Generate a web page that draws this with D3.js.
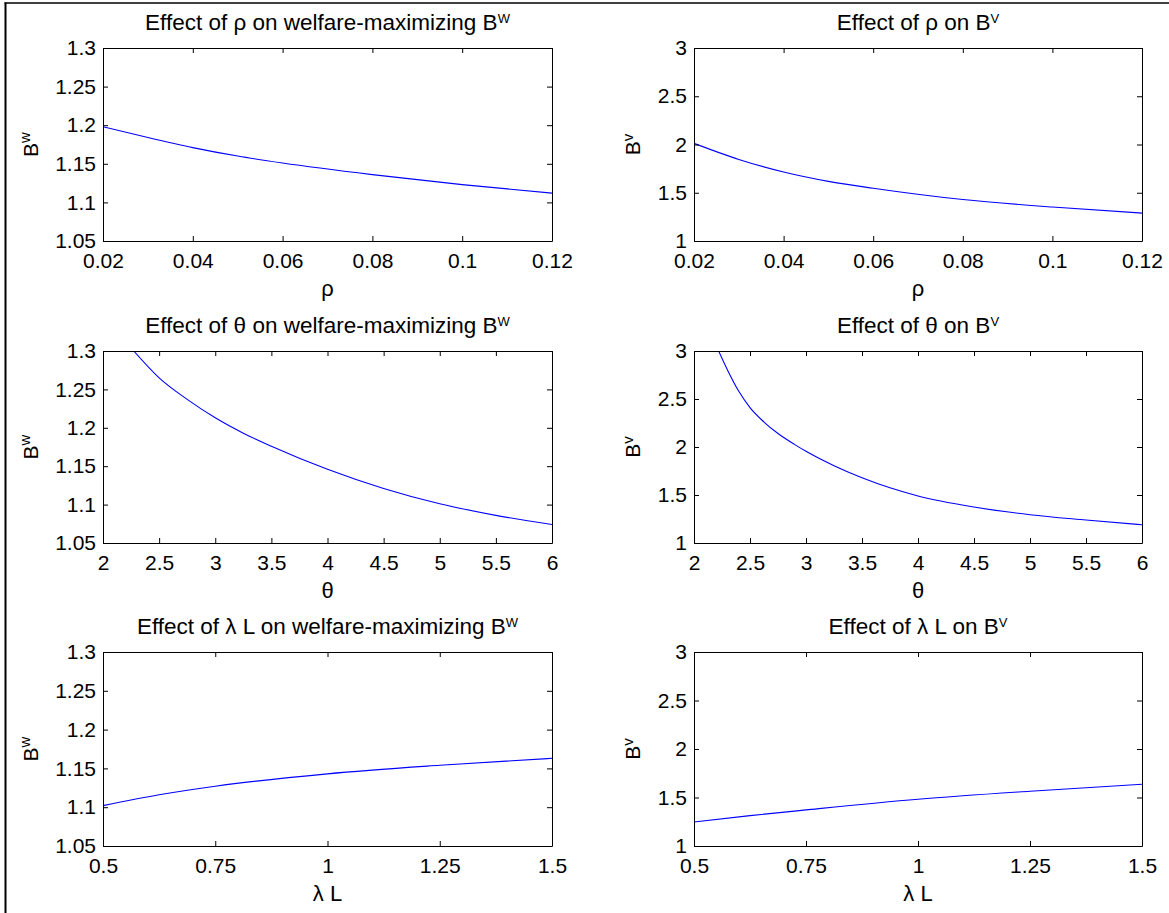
<!DOCTYPE html>
<html>
<head>
<meta charset="utf-8">
<script src="https://cdn.jsdelivr.net/npm/d3@7"></script>
<style>
  body { margin: 0; background: #fff; }
  svg text { font-family: "Liberation Sans", Arial, sans-serif; fill: #000; }
</style>
</head>
<body>
<svg id="fig" width="1169" height="913"></svg>
<script>
// values
var rho = [0.02, 0.03, 0.04, 0.05, 0.06, 0.08, 0.10, 0.12];
var rhoBw = [1.198, 1.184, 1.171, 1.160, 1.151, 1.136, 1.123, 1.112];
var rhoBv = [2.012, 1.845, 1.715, 1.618, 1.547, 1.430, 1.352, 1.289];

var thetaW = [2.274, 2.5, 2.75, 3.0, 3.25, 3.5, 4.0, 4.5, 5.0, 5.5, 6.0];
var thetaBw = [1.300, 1.265, 1.237, 1.213, 1.193, 1.176, 1.146, 1.121, 1.101, 1.086, 1.074];
var thetaV = [2.22, 2.3, 2.4, 2.5, 2.625, 2.75, 2.9, 3.0, 3.25, 3.5, 3.75, 4.0, 4.5, 5.0, 5.5, 6.0];
var thetaBv = [3.0, 2.80, 2.58, 2.41, 2.26, 2.14, 2.025, 1.955, 1.805, 1.68, 1.575, 1.49, 1.375, 1.295, 1.24, 1.19];

var lamL = [0.5, 0.625, 0.75, 1.0, 1.25, 1.5];
var lamBw = [1.102, 1.116, 1.127, 1.143, 1.154, 1.163];
var lamBv = [1.248, 1.313, 1.372, 1.482, 1.565, 1.637];

var rhoTicks = [0.02, 0.04, 0.06, 0.08, 0.1, 0.12];
var thetaTicks = [2, 2.5, 3, 3.5, 4, 4.5, 5, 5.5, 6];
var lamTicks = [0.5, 0.75, 1, 1.25, 1.5];
var bwTicks = [1.05, 1.1, 1.15, 1.2, 1.25, 1.3];
var bvTicks = [1, 1.5, 2, 2.5, 3];

var svg = d3.select("#fig");

// frame lines round the figure
svg.append("line").attr("x1", 5.5).attr("x2", 5.5).attr("y1", 2.5).attr("y2", 913)
    .attr("stroke", "#000").attr("stroke-width", 2);
svg.append("line").attr("x1", 4.5).attr("x2", 1169).attr("y1", 3).attr("y2", 3)
    .attr("stroke", "#000").attr("stroke-width", 1.5);

var cols = [{x0: 103, x1: 552, ylab: 37.5}, {x0: 694, x1: 1142, ylab: 640}];
var rows = [{y0: 48, y1: 241}, {y0: 351, y1: 543}, {y0: 652, y1: 846}];

var panels = [
    {r: 0, c: 0, sym: "ρ", x: rho, y: rhoBw, xd: [0.02, 0.12], xt: rhoTicks, w: true, xl: "ρ"},
    {r: 0, c: 1, sym: "ρ", x: rho, y: rhoBv, xd: [0.02, 0.12], xt: rhoTicks, w: false, xl: "ρ"},
    {r: 1, c: 0, sym: "θ", x: thetaW, y: thetaBw, xd: [2, 6], xt: thetaTicks, w: true, xl: "θ"},
    {r: 1, c: 1, sym: "θ", x: thetaV, y: thetaBv, xd: [2, 6], xt: thetaTicks, w: false, xl: "θ"},
    {r: 2, c: 0, sym: "λ L", x: lamL, y: lamBw, xd: [0.5, 1.5], xt: lamTicks, w: true, xl: "λ L"},
    {r: 2, c: 1, sym: "λ L", x: lamL, y: lamBv, xd: [0.5, 1.5], xt: lamTicks, w: false, xl: "λ L"}
];

var fmt = function(d) { return String(+d.toFixed(4)); };

panels.forEach(function(p, i) {
    var col = cols[p.c], row = rows[p.r];
    var x = d3.scaleLinear().domain(p.xd).range([col.x0, col.x1]);
    var y = p.w
        ? d3.scaleLinear().domain([1.05, 1.3]).range([row.y1, row.y0])
        : d3.scaleLinear().domain([1, 3]).range([row.y1, row.y0]);
    var yt = p.w ? bwTicks : bvTicks;

    var g = svg.append("g");

    g.append("clipPath").attr("id", "clip" + i)
        .append("rect")
        .attr("x", col.x0).attr("y", row.y0)
        .attr("width", col.x1 - col.x0).attr("height", row.y1 - row.y0);

    var line = d3.line()
        .x(function(d) { return x(d[0]); })
        .y(function(d) { return y(d[1]); })
        .curve(d3.curveMonotoneX);

    g.append("path")
        .datum(d3.zip(p.x, p.y))
        .attr("clip-path", "url(#clip" + i + ")")
        .attr("d", line)
        .attr("fill", "none")
        .attr("stroke", "#0000ff")
        .attr("stroke-width", 1.1);

    g.append("g").attr("transform", "translate(0," + row.y1 + ")")
        .call(d3.axisBottom(x).tickValues(p.xt).tickFormat(fmt)
            .tickSizeInner(-5).tickSizeOuter(0).tickPadding(12));
    g.append("g").attr("transform", "translate(" + col.x0 + ",0)")
        .call(d3.axisLeft(y).tickValues(yt).tickFormat(fmt)
            .tickSizeInner(-5).tickSizeOuter(0).tickPadding(7));
    g.append("g").attr("transform", "translate(0," + row.y0 + ")")
        .call(d3.axisTop(x).tickValues(p.xt).tickFormat("")
            .tickSizeInner(-5).tickSizeOuter(0));
    g.append("g").attr("transform", "translate(" + col.x1 + ",0)")
        .call(d3.axisRight(y).tickValues(yt).tickFormat("")
            .tickSizeInner(-5).tickSizeOuter(0));

    g.selectAll(".domain").attr("stroke", "#000").attr("stroke-width", 1);
    g.selectAll(".tick line").attr("stroke", "#000");
    g.selectAll(".tick text")
        .style("font-family", '"Liberation Sans", Arial, sans-serif')
        .style("font-size", "21px")
        .attr("fill", "#000");

    var cx = (col.x0 + col.x1) / 2;

    // title
    var t = g.append("text")
        .attr("x", cx).attr("y", row.y0 - 18)
        .attr("text-anchor", "middle")
        .style("font-size", "22.5px");
    t.append("tspan").text("Effect of " + p.sym + " on " + (p.w ? "welfare-maximizing B" : "B"));
    t.append("tspan").attr("dy", "-0.55em").style("font-size", "13px").text(p.w ? "W" : "V");

    // x label
    g.append("text")
        .attr("x", cx).attr("y", row.y1 + 55)
        .attr("text-anchor", "middle")
        .style("font-size", "22px")
        .text(p.xl);

    // y label
    var yl = g.append("text")
        .attr("transform", "translate(" + col.ylab + "," + ((row.y0 + row.y1) / 2) + ") rotate(-90)")
        .attr("text-anchor", "middle")
        .style("font-size", "21px");
    yl.append("tspan").text("B");
    yl.append("tspan").attr("dy", "-0.5em").style("font-size", "15px").text(p.w ? "w" : "v");
});
</script>
</body>
</html>
